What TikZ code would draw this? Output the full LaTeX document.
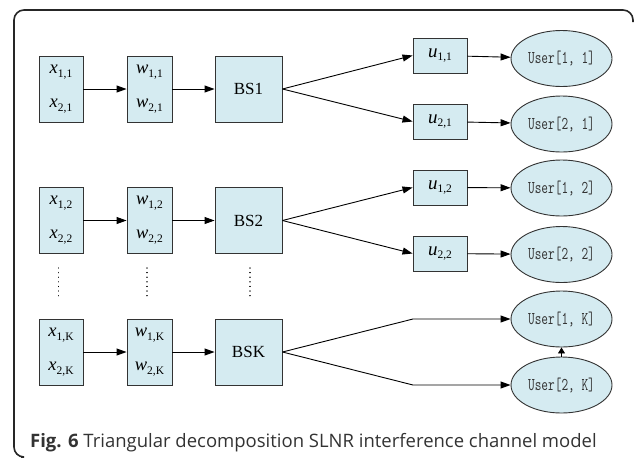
\documentclass[tikz,border=0pt]{standalone}
\usepackage{fontspec}
\setmainfont{Liberation Serif}
\newfontfamily\capfont{Open Sans}
\usetikzlibrary{arrows.meta,shapes.geometric}
\definecolor{boxfill}{HTML}{D5EBF1}
\definecolor{linec}{HTML}{333333}
\newcommand{\vv}[2]{\textit{#1}\raisebox{-0.45ex}{\fontsize{11.5}{11.5}\selectfont #2}}
\begin{document}
\begin{tikzpicture}[x=1pt,y=-1pt,
  bx/.style={draw=linec,fill=boxfill,line width=0.9pt,inner sep=0pt,font=\fontsize{17}{18}\selectfont},
  usr/.style={ellipse,draw=linec,fill=boxfill,line width=0.9pt,minimum width=101pt,minimum height=56pt,inner sep=0pt,text=black!80,font=\fontsize{18}{18}\ttfamily},
  arr/.style={draw=black,line width=0.9pt,-{Triangle[length=10pt,width=7pt]}},
  dots/.style={draw=black,line width=1.3pt,dash pattern=on 0.01pt off 4.6pt,line cap=round}]
\useasboundingbox (0,0) rectangle (635,459);
\draw[line width=1.6pt,draw=black!85,rounded corners=10pt] (21,457) -- (14,457) -- (14,10) -- (633,10) -- (633,22);
% rows
\foreach \r/\y/\s/\b in {1/89/1/BS1,2/220.5/2/BS2,K/352/K/BSK}{
  \node[bx,minimum width=44pt,minimum height=66pt] (x\r) at (61,\y) {};
  \node at ([yshift=17pt]x\r.center) {\fontsize{18.5}{18}\selectfont\vv{x}{1,\s}};
  \node at ([yshift=-17pt]x\r.center) {\fontsize{18.5}{18}\selectfont\vv{x}{2,\s}};
  \node[bx,minimum width=45pt,minimum height=66pt] (w\r) at (149.5,\y) {};
  \node at ([yshift=17pt]w\r.center) {\fontsize{18.5}{18}\selectfont\vv{w}{1,\s}};
  \node at ([yshift=-17pt]w\r.center) {\fontsize{18.5}{18}\selectfont\vv{w}{2,\s}};
  \node[bx,minimum width=67pt,minimum height=66pt] (bs\r) at (248.5,\y) {\b};
  \draw[arr] (x\r) -- (w\r);
  \draw[arr] (w\r) -- (bs\r);
}
% u boxes
\node[bx,minimum width=54pt,minimum height=35pt] (u11) at (440,55.5) {\fontsize{19}{18}\selectfont\vv{u}{1,1}};
\node[bx,minimum width=54pt,minimum height=35pt] (u21) at (440,121.5) {\fontsize{19}{18}\selectfont\vv{u}{2,1}};
\node[bx,minimum width=54pt,minimum height=35pt] (u12) at (440,187.5) {\fontsize{19}{18}\selectfont\vv{u}{1,2}};
\node[bx,minimum width=54pt,minimum height=35pt] (u22) at (440,253.5) {\fontsize{19}{18}\selectfont\vv{u}{2,2}};
% users
\node[usr] (e11) at (561.5,58.5) {\scalebox{0.72}[1]{User[1,~1]}};
\node[usr] (e21) at (561.5,124) {\scalebox{0.72}[1]{User[2,~1]}};
\node[usr] (e12) at (561.5,188) {\scalebox{0.72}[1]{User[1,~2]}};
\node[usr] (e22) at (561.5,254.5) {\scalebox{0.72}[1]{User[2,~2]}};
\node[usr] (e1K) at (561.5,319) {\scalebox{0.72}[1]{User[1,~K]}};
\node[usr] (e2K) at (561.5,385) {\scalebox{0.72}[1]{User[2,~K]}};
% connectors
\draw[arr] (bs1.east) -- (u11.west);
\draw[arr] (bs1.east) -- (u21.west);
\draw[arr] (bs2.east) -- (u12.west);
\draw[arr] (bs2.east) -- (u22.west);
\draw[arr] (u11) -- (e11);
\draw[arr] (u21) -- (e21);
\draw[arr] (u12) -- (e12);
\draw[arr] (u22) -- (e22);
\coordinate (k1) at (413,319);
\coordinate (k2) at (413,385);
\draw[arr] (bsK.east) -- (k1) -- (e1K.west);
\draw[arr] (bsK.east) -- (k2) -- (e2K.west);
\draw[draw=black,line width=0.9pt,-{Triangle[length=6pt,width=7pt]}] (e2K.north) -- (e1K.south);
% dots
\draw[dots] (58.5,268) -- (58.5,299);
\draw[dots] (147,268) -- (147,299);
\draw[dots] (250,268) -- (250,299);
% caption
\node[anchor=base west,inner sep=0pt,text=black!80,font=\capfont\fontsize{18.5}{20}\selectfont] (cap) at (30,447) {\textbf{Fig. 6} Triangular decomposition SLNR interference channel model};
\end{tikzpicture}
\end{document}
